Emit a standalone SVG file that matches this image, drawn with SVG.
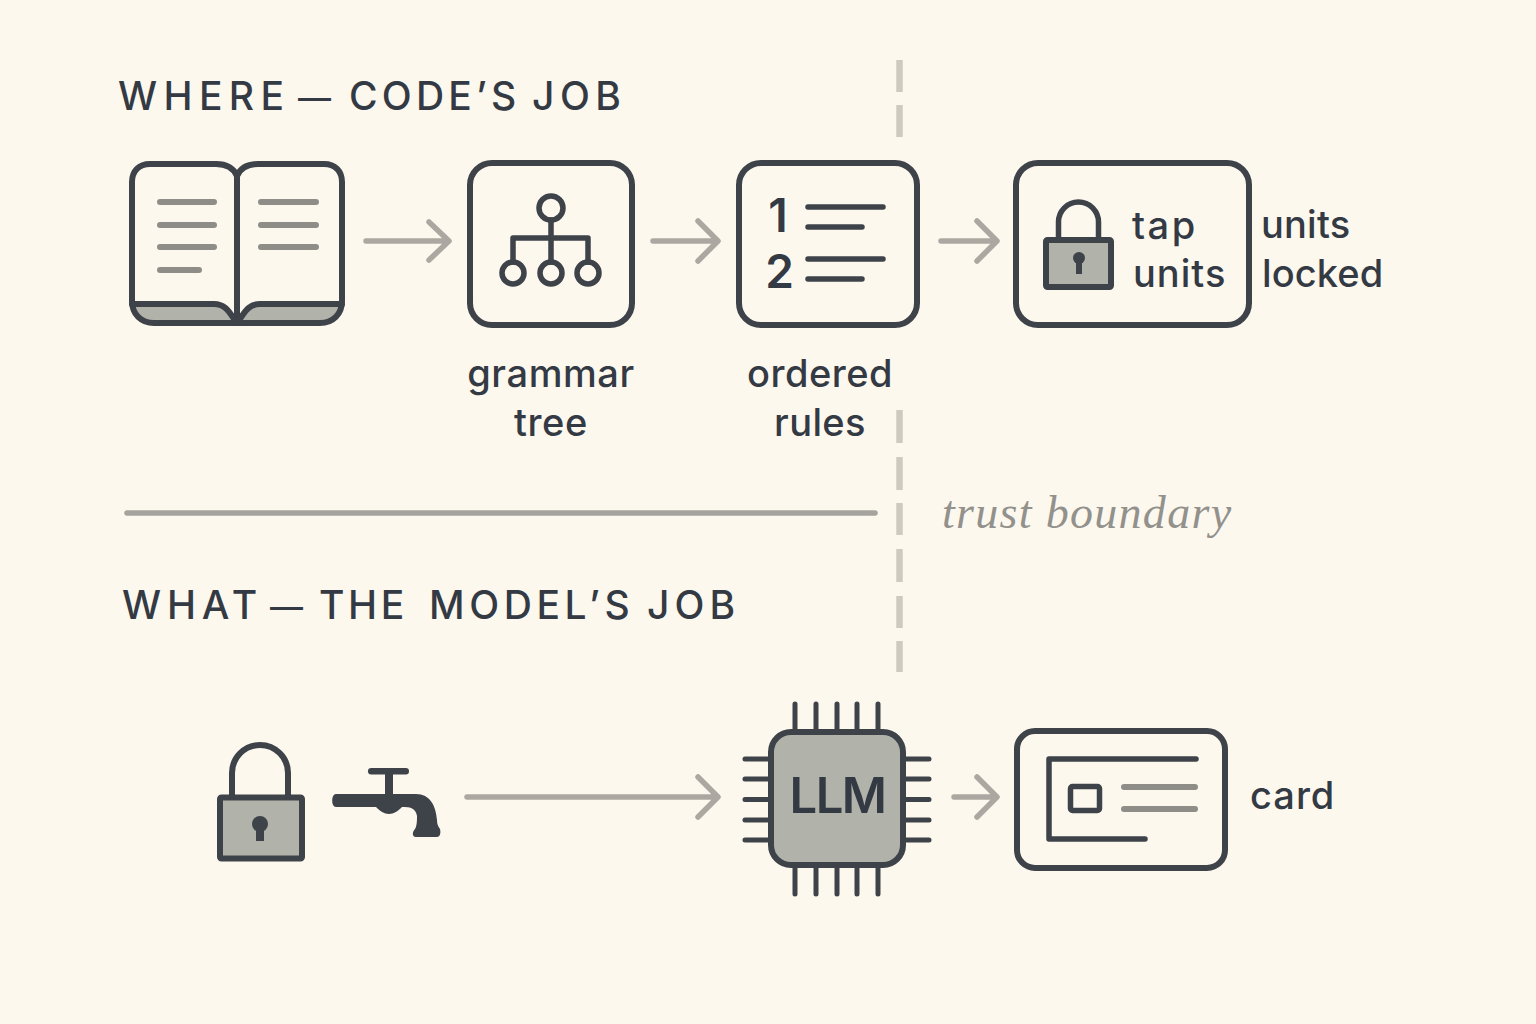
<svg xmlns="http://www.w3.org/2000/svg" width="1536" height="1024" viewBox="0 0 1536 1024">
<defs>
<style>
.k{fill:none;stroke:#3e4249;stroke-width:6;stroke-linecap:round;stroke-linejoin:round}
.t{fill:none;stroke:#3e4249;stroke-width:5.500;stroke-linecap:round;stroke-linejoin:round}
.g{fill:none;stroke:#8f8d88;stroke-width:6;stroke-linecap:round}
.a{fill:none;stroke:#aca8a1;stroke-width:5.500;stroke-linecap:round;stroke-linejoin:round}
.f{fill:#b1b2a9}
.d{fill:#3e4249}
.b{fill:#b1b2a9;stroke:#3e4249;stroke-width:6;stroke-linejoin:round}
.dash{stroke:#cfcac0;stroke-width:6.500;fill:none}
text{font-family:"Inter","Liberation Sans",sans-serif;fill:#343a44}
.h{font-size:39px;font-weight:500}
.l{font-size:38px;font-weight:500}
</style>
</defs>
<rect width="1536" height="1024" fill="#fdf8ee"/>

<g id="boundary">
<path class="dash" d="M899.500 60V92M899.500 105V137M899.500 410V443M899.500 457V490M899.500 503V535M899.500 549V582M899.500 596V628M899.500 641V672"/>
<line x1="127" y1="513" x2="875" y2="513" stroke="#a5a39d" stroke-width="5.500" stroke-linecap="round"/>
<text x="942" y="528" font-size="46" style="font-family:'Liberation Serif',serif;font-style:italic;fill:#92918c;letter-spacing:1.300px">trust boundary</text>
</g>

<text id="where-title" class="h" y="110"><tspan x="118" style="letter-spacing:6.400px">WHERE</tspan> <tspan x="298" font-size="33">—</tspan> <tspan x="349" style="letter-spacing:4.200px">CODE’S</tspan> <tspan x="532" style="letter-spacing:5.500px">JOB</tspan></text>
<text id="what-title" class="h" y="619"><tspan x="122" style="letter-spacing:5.800px">WHAT</tspan> <tspan x="270" font-size="33">—</tspan> <tspan x="319" style="letter-spacing:3.600px">THE</tspan> <tspan x="429" style="letter-spacing:4.600px">MODEL’S</tspan> <tspan x="647" style="letter-spacing:5.100px">JOB</tspan></text>

<g id="connectors">
<path class="a" d="M366 241H447M429 222L449 241L429 260"/>
<path class="a" d="M653 241H716M698 221L718 241L698 261"/>
<path class="a" d="M941 241H995M977 221L997 241L977 261"/>
<path class="a" d="M467 797H716M698 777L718 797L698 817"/>
<path class="a" d="M954 797H995M977 777L997 797L977 817"/>
</g>

<g id="book">
<path class="f" d="M134 304H214C227 304 231 316 236 322H154C142 322 134 314 134 304ZM238 322C243 316 247 304 260 304H340C340 314 332 322 320 322Z"/>
<path class="k" d="M237 176C234 169 227 164 216 164H150C139 164 132 171 132 182V301C132 314 141 323 154 323H320C333 323 342 314 342 301V182C342 171 335 164 324 164H258C247 164 240 169 237 176V321"/>
<path class="k" d="M132 304H214C228 304 231 317 237 322C243 317 246 304 260 304H342"/>
<path class="g" d="M160 202H214M160 225H214M160 247H214M160 270H199M261 202H316M261 225H316M261 247H316"/>
</g>

<g id="grammar-tree">
<rect class="k" x="470" y="163" width="162" height="162" rx="22"/>
<circle class="t" cx="551" cy="208" r="12"/>
<circle class="t" cx="513" cy="273" r="11"/>
<circle class="t" cx="551" cy="273" r="11"/>
<circle class="t" cx="588" cy="273" r="11"/>
<path class="t" d="M551 220V262M513 262V238H588V262"/>
<text class="l" text-anchor="middle" x="551" y="387" style="letter-spacing:.6px">grammar</text>
<text class="l" text-anchor="middle" x="551" y="436" style="letter-spacing:.6px">tree</text>
</g>

<g id="ordered-rules">
<rect class="k" x="739" y="163" width="178" height="162" rx="22"/>
<text font-size="46" text-anchor="middle" style="font-weight:600"><tspan x="778" y="232">1</tspan><tspan x="779.500" y="288">2</tspan></text>
<path class="t" d="M808 207H883M808 227H862M808 259H883M808 279H862"/>
<text class="l" text-anchor="middle" x="820" y="387" style="letter-spacing:.5px">ordered</text>
<text class="l" text-anchor="middle" x="820" y="436" style="letter-spacing:.4px">rules</text>
</g>

<g id="tap-units">
<rect class="k" x="1016" y="163" width="233" height="162" rx="22"/>
<path class="t" d="M1058.500 240V222A20 20 0 0 1 1098.500 222V240"/>
<rect class="b" x="1046" y="240" width="65" height="47" rx="1.500"/>
<circle cx="1079" cy="258" r="6" class="d"/><rect x="1076" y="260" width="6" height="14" class="d"/>
<text class="l" x="1132" y="239" style="letter-spacing:2.500px">tap</text>
<text class="l" x="1133" y="287" style="letter-spacing:1px">units</text>
</g>

<g id="units-locked">
<text class="l" x="1261" y="238" style="letter-spacing:.2px">units</text>
<text class="l" x="1262" y="287" style="letter-spacing:.1px">locked</text>
</g>

<g id="lock-tap">
<path class="k" d="M232 797V773A28 28 0 0 1 288 773V797"/>
<rect class="b" x="220" y="797.500" width="82" height="61" rx="1.500"/>
<circle cx="260" cy="824" r="8" class="d"/><rect x="256" y="826" width="8" height="15" class="d"/>
<rect class="d" x="368" y="768" width="41" height="6.500" rx="3.200"/>
<rect class="d" x="385" y="772" width="8" height="24"/>
<path class="d" d="M336 794H416C430 794 436 806 437 820C437 824 438 826 440 829C441 833 440 837 437 837H416C412 837 412 832 415 829C417 826 417 820 417 816C416 810 412 807 405 807H402C398 811 394 814 389 814C384 814 380 811 376 807H336C331 807 331 794 336 794Z"/>
</g>

<g id="llm">
<path class="t" style="stroke-width:5" d="M795 704V730M816 704V730M837 704V730M857 704V730M878 704V730M795 867V894M816 867V894M837 867V894M857 867V894M878 867V894M745 759H770M745 779H770M745 799.500H770M745 820H770M745 840H770M904 759H929M904 779H929M904 799.500H929M904 820H929M904 840H929"/>
<rect x="771" y="732" width="132" height="133" rx="20" class="b"/>
<text x="837.500" y="813" font-size="49" text-anchor="middle" style="font-weight:600;letter-spacing:-1.500px">LLM</text>
</g>

<g id="card">
<rect class="k" x="1017" y="731" width="208" height="137" rx="18"/>
<path class="t" d="M1196 759H1049V839H1145"/>
<rect class="t" x="1070.500" y="786.500" width="29" height="24" rx="2"/>
<path class="g" d="M1124 787H1195M1124 809H1195"/>
<text class="l" x="1250" y="809" style="letter-spacing:1px">card</text>
</g>
</svg>
